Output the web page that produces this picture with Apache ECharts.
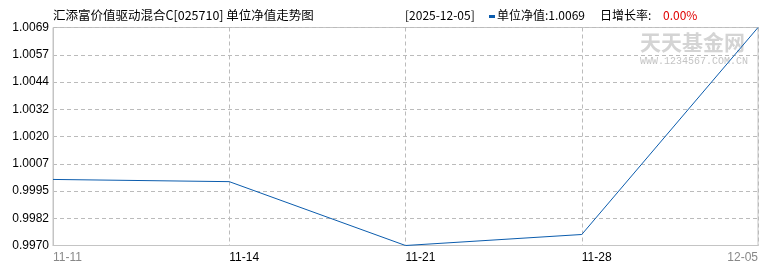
<!DOCTYPE html>
<html><head><meta charset="utf-8">
<script src="https://cdn.jsdelivr.net/npm/echarts@6/dist/echarts.min.js"></script>
<style>html,body{margin:0;padding:0;background:#fff}#c{width:770px;height:270px}</style>
</head><body><div id="c"></div>
<script>
const dates = ['11-11','11-14','11-21','11-28','12-05'];
const navValues = [1.0000, 0.9999, 0.9970, 0.9975, 1.0069];
const yTickLabels = ['0.9970','0.9982','0.9995','1.0007','1.0020','1.0032','1.0044','1.0057','1.0069'];
const yMin = 0.9970, yMax = 1.0069;
const titleText = '汇添富价值驱动混合C[025710] 单位净值走势图';
const infoDate = '[2025-12-05]';
const infoNav = '单位净值:1.0069';
const infoRateLabel = '日增长率:';
const infoRate = '0.00%';

const chart = echarts.init(document.getElementById('c'), null, {renderer:'canvas'});
const font = '"Liberation Sans","Noto Sans CJK SC",sans-serif';
chart.setOption({
  animation:false,
  grid:{left:53,right:12,top:27.5,bottom:24.5,show:true,borderColor:'#c4c4c4',borderWidth:1,containLabel:false},
  xAxis:{type:'category',data:dates,boundaryGap:false,
    axisLine:{show:true,lineStyle:{color:'#c4c4c4'}},axisTick:{show:false},
    axisLabel:{show:true,interval:0,align:'left',alignMinLabel:'left',alignMaxLabel:'right',margin:6,fontSize:12,fontFamily:font,
      color:function(v,i){return (i===0||i===dates.length-1)?'#888':'#000';}},
    splitLine:{show:true,lineStyle:{color:'#bbb',type:[4,3]}}},
  yAxis:{type:'value',min:yMin,max:yMax,interval:(yMax-yMin)/8,
    axisLine:{show:true,lineStyle:{color:'#c4c4c4'}},axisTick:{show:false},
    axisLabel:{margin:4,fontSize:12,fontFamily:font,color:'#000',
      formatter:function(v,i){return yTickLabels[i]!==undefined?yTickLabels[i]:v.toFixed(4);}},
    splitLine:{show:true,lineStyle:{color:'#bbb',type:[4,3]}}},
  series:[{type:'line',data:navValues,showSymbol:false,symbol:'none',
    lineStyle:{color:'#0b5cad',width:1},z:5}],
  graphic:[
    {type:'text',left:53,top:9,style:{text:titleText,font:'12.5px "Noto Sans CJK SC",sans-serif',fill:'#000'}},
    {type:'text',left:405,top:9,style:{text:infoDate,font:'12px "Noto Sans CJK SC",sans-serif',fill:'#000'}},
    {type:'rect',shape:{x:489,y:15,width:6,height:3},style:{fill:'#0b5cad'}},
    {type:'text',left:497,top:9,style:{text:infoNav,font:'12px "Noto Sans CJK SC",sans-serif',fill:'#000'}},
    {type:'text',left:600,top:9,style:{text:infoRateLabel,font:'12px "Noto Sans CJK SC",sans-serif',fill:'#000'}},
    {type:'text',left:663,top:9,style:{text:infoRate,font:'12px "Noto Sans CJK SC",sans-serif',fill:'#e00000'}},
    {type:'text',left:640,top:32,z:1,style:{text:'天天基金网',font:'bold 21px "Noto Sans CJK SC",sans-serif',fill:'#d4d4d4'}},
    {type:'text',left:640,top:56,z:1,style:{text:'WWW.1234567.COM.CN',font:'10px "Liberation Mono",monospace',fill:'#c4c4c4'}}
  ]
});
</script></body></html>
